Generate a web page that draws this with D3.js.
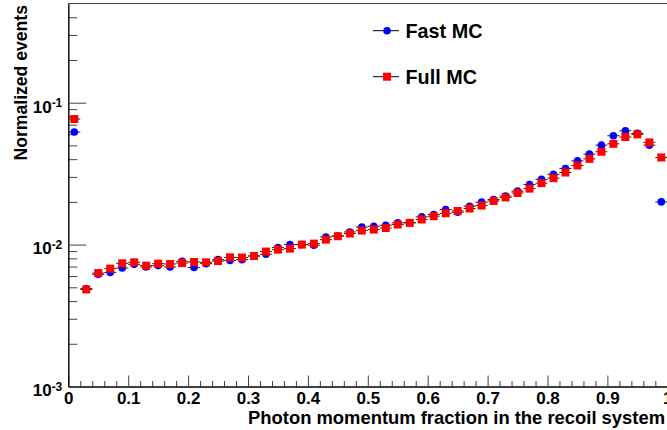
<!DOCTYPE html>
<html>
<head>
<meta charset="utf-8">
<script src="https://cdn.jsdelivr.net/npm/d3@7"></script>
<style>
  html, body { margin: 0; padding: 0; background: #fff; }
  svg { display: block; }
  text { font-family: "Liberation Sans", Arial, Helvetica, sans-serif; font-weight: bold; fill: #000; }
</style>
</head>
<body>
<svg id="chart" width="667" height="430"></svg>
<script>
// ---- data ----
const binCenters = [0.01,0.03,0.05,0.07,0.09,0.11,0.13,0.15,0.17,0.19,
                    0.21,0.23,0.25,0.27,0.29,0.31,0.33,0.35,0.37,0.39,
                    0.41,0.43,0.45,0.47,0.49,0.51,0.53,0.55,0.57,0.59,
                    0.61,0.63,0.65,0.67,0.69,0.71,0.73,0.75,0.77,0.79,
                    0.81,0.83,0.85,0.87,0.89,0.91,0.93,0.95,0.97,0.99];
const binHalfWidth = 0.01;
const fastMC = [0.0621,0.00489,0.00617,0.00637,0.00684,0.00726,0.00695,0.00711,0.00695,0.00762,
                0.00689,0.00734,0.00783,0.00774,0.00783,0.00831,0.00855,0.00953,0.0100,0.0100,
                0.00989,0.01132,0.01151,0.01228,0.01331,0.01347,0.01369,0.01422,0.01429,0.01567,
                0.01629,0.01767,0.01691,0.01864,0.01991,0.0208,0.0220,0.0238,0.0265,0.0288,
                0.0313,0.0344,0.0389,0.0434,0.0502,0.0585,0.0634,0.0608,0.0502,0.0200];
const fullMC = [0.0767,0.00483,0.00630,0.00677,0.00738,0.00750,0.00711,0.00734,0.00730,0.00741,
                0.00754,0.00750,0.00766,0.00813,0.00810,0.00831,0.00893,0.00922,0.00937,0.0100,
                0.01016,0.01084,0.01145,0.01197,0.01256,0.01276,0.01309,0.01384,0.01422,0.01503,
                0.01585,0.01663,0.01726,0.01796,0.01885,0.0203,0.0215,0.0231,0.0248,0.0271,
                0.0294,0.0322,0.0361,0.0402,0.0451,0.0513,0.0573,0.0598,0.0525,0.0411];
const xMajorTicks = [0,0.1,0.2,0.3,0.4,0.5,0.6,0.7,0.8,0.9,1];
const xMinorTicks = [0.02,0.04,0.06,0.08,0.12,0.14,0.16,0.18,0.22,0.24,0.26,0.28,0.32,0.34,0.36,0.38,
                     0.42,0.44,0.46,0.48,0.52,0.54,0.56,0.58,0.62,0.64,0.66,0.68,0.72,0.74,0.76,0.78,
                     0.82,0.84,0.86,0.88,0.92,0.94,0.96,0.98];
const yMajorTicks = [0.001,0.01,0.1];
const yMajorExp = ["-3","-2","-1"];
const yMinorTicks = [0.002,0.003,0.004,0.005,0.006,0.007,0.008,0.009,
                     0.02,0.03,0.04,0.05,0.06,0.07,0.08,0.09,
                     0.2,0.3,0.4];
const seriesNames = ["Fast MC","Full MC"];
const seriesColors = ["#0000ff","#ff0000"];
const xTitle = "Photon momentum fraction in the recoil system";
const yTitle = "Normalized events";

// ---- layout ----
const svg = d3.select("#chart");
const x = d3.scaleLinear().domain([0,1]).range([68.3,667.3]);
const y = d3.scaleLog().domain([0.001,0.5]).range([386.5,3.5]);

// top frame line
svg.append("line")
  .attr("x1", x(0)).attr("x2", x(1)).attr("y1", y(0.5)).attr("y2", y(0.5))
  .attr("stroke", "#444").attr("stroke-width", 1.2);

// x axis minor
svg.append("g").attr("transform", `translate(0,${y(0.001)})`)
  .call(d3.axisBottom(x).tickValues(xMinorTicks).tickSize(-5.5).tickFormat(""))
  .call(g => g.select(".domain").remove())
  .call(g => g.selectAll("line").attr("stroke","#444"));
// x axis major
svg.append("g").attr("transform", `translate(0,${y(0.001)})`)
  .call(d3.axisBottom(x).tickValues(xMajorTicks).tickSizeInner(-11).tickSizeOuter(0).tickPadding(5)
        .tickFormat(d => d === 0 ? "0" : d === 1 ? "1" : d3.format(".1f")(d)))
  .call(g => g.select(".domain").attr("stroke","#000").attr("stroke-width",1.4))
  .call(g => g.selectAll("line").attr("stroke","#444"))
  .call(g => g.selectAll("text").style("font-size","17px").attr("font-family",null).attr("font-size",null));

// y axis minor
svg.append("g").attr("transform", `translate(${x(0)},0)`)
  .call(d3.axisLeft(y).tickValues(yMinorTicks).tickSize(-9).tickFormat(""))
  .call(g => g.select(".domain").remove())
  .call(g => g.selectAll("line").attr("stroke","#444"));
// y axis major
const yAx = svg.append("g").attr("transform", `translate(${x(0)},0)`)
  .call(d3.axisLeft(y).tickValues(yMajorTicks).tickSizeInner(-18).tickSizeOuter(0).tickPadding(6).tickFormat(""))
  .call(g => g.select(".domain").attr("stroke","#000").attr("stroke-width",1.4))
  .call(g => g.selectAll("line").attr("stroke","#444"));
yAx.selectAll(".tick text").each(function(d, i) {
  const t = d3.select(this);
  t.attr("font-family", null).attr("font-size", null).attr("dy", "0.55em")
   .style("font-size","17px");
  t.append("tspan").text("10");
  t.append("tspan").text(yMajorExp[yMajorTicks.indexOf(d)])
   .style("font-size","12px").attr("dy","-0.45em");
});

// titles
svg.append("text").attr("x", 665).attr("y", 424).attr("text-anchor","end")
  .style("font-size","18.4px").text(xTitle);
svg.append("text").attr("transform","translate(26.5,5) rotate(-90)").attr("text-anchor","end")
  .style("font-size","17.6px").text(yTitle);

// data
const series = [fastMC, fullMC];
series.forEach((vals, si) => {
  const g = svg.append("g");
  g.selectAll("line.err").data(vals).join("line").attr("class","err")
    .attr("x1",(d,i)=>x(binCenters[i]-binHalfWidth)).attr("x2",(d,i)=>x(binCenters[i]+binHalfWidth))
    .attr("y1",d=>y(d)).attr("y2",d=>y(d))
    .attr("stroke","#222").attr("stroke-width",1);
  if (si === 0) {
    g.selectAll("circle").data(vals).join("circle")
      .attr("cx",(d,i)=>x(binCenters[i])).attr("cy",d=>y(d)).attr("r",3.8)
      .attr("fill",seriesColors[0]);
  } else {
    g.selectAll("rect").data(vals).join("rect")
      .attr("x",(d,i)=>x(binCenters[i])-4).attr("y",d=>y(d)-4).attr("width",8).attr("height",8)
      .attr("fill",seriesColors[1]);
  }
});

// legend
const legY = [30.7, 76.7];
seriesNames.forEach((name, si) => {
  const lg = svg.append("g");
  lg.append("line").attr("x1",373).attr("x2",399).attr("y1",legY[si]).attr("y2",legY[si])
    .attr("stroke","#000").attr("stroke-width",1);
  if (si === 0) lg.append("circle").attr("cx",387).attr("cy",legY[si]).attr("r",3.8).attr("fill",seriesColors[0]);
  else lg.append("rect").attr("x",383).attr("y",legY[si]-4).attr("width",8).attr("height",8).attr("fill",seriesColors[1]);
  lg.append("text").attr("x",405.5).attr("y",legY[si]).attr("dy","0.36em")
    .style("font-size","19.8px").text(name);
});
</script>
</body>
</html>
